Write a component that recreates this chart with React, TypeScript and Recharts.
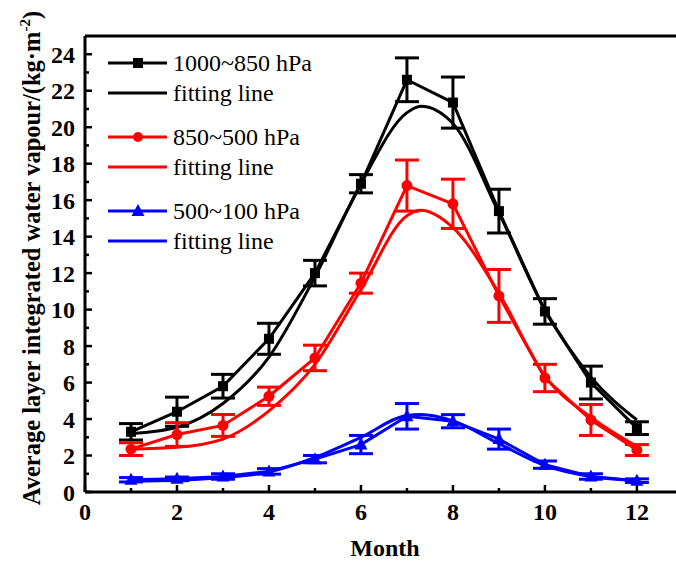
import React from 'react';
import { LineChart, Line, XAxis, YAxis, ErrorBar, ReferenceLine, Legend } from 'recharts';

const months = [1, 2, 3, 4, 5, 6, 7, 8, 9, 10, 11, 12];
const blackMean = [3.3, 4.4, 5.8, 8.4, 12.0, 16.9, 22.6, 21.35, 15.4, 9.9, 6.0, 3.5];
const blackErr = [0.45, 0.8, 0.65, 0.85, 0.7, 0.5, 1.2, 1.4, 1.2, 0.7, 0.9, 0.35];
const redMean = [2.35, 3.15, 3.65, 5.25, 7.35, 11.45, 16.8, 15.8, 10.75, 6.25, 3.95, 2.3];
const redErr = [0.35, 0.65, 0.6, 0.5, 0.7, 0.55, 1.4, 1.35, 1.45, 0.75, 0.85, 0.3];
const blueMean = [0.67, 0.72, 0.85, 1.13, 1.8, 2.6, 4.15, 3.88, 2.9, 1.5, 0.85, 0.62];
const blueErr = [0.12, 0.1, 0.15, 0.15, 0.2, 0.5, 0.7, 0.36, 0.55, 0.2, 0.15, 0.1];

const fitMonths = [1, 2, 3, 4, 5, 6, 7, 7.3, 8, 9, 10, 11, 12];
const blackFit = [3.2, 3.55, 4.85, 7.4, 11.8, 16.9, 20.8, 21.15, 20.2, 15.3, 10.0, 6.3, 3.95];
const redFit = [2.35, 2.45, 2.9, 4.45, 7.0, 11.1, 15.15, 15.45, 14.5, 10.9, 6.35, 4.1, 2.5];
const blueFit = [0.6, 0.65, 0.8, 1.1, 1.9, 3.0, 4.2, 4.25, 3.9, 2.65, 1.45, 0.85, 0.62];

const xTicks = [0, 1, 2, 3, 4, 5, 6, 7, 8, 9, 10, 11, 12];
const yTicks = [0, 1, 2, 3, 4, 5, 6, 7, 8, 9, 10, 11, 12, 13, 14, 15, 16, 17, 18, 19, 20, 21, 22, 23, 24];

const seriesLabels = ['1000~850 hPa', '850~500 hPa', '500~100 hPa'];
const fitLabel = 'fitting line';

const toRows = (xs: number[], ys: number[], es?: number[]) =>
  xs.map((m, i) => ({ m, v: ys[i], e: es ? es[i] : 0 }));

const blackData = toRows(months, blackMean, blackErr);
const redData = toRows(months, redMean, redErr);
const blueData = toRows(months, blueMean, blueErr);
const blackFitData = toRows(fitMonths, blackFit);
const redFitData = toRows(fitMonths, redFit);
const blueFitData = toRows(fitMonths, blueFit);

const SERIF = '"Liberation Serif", "Times New Roman", serif';

const SquareDot = (props: any) => {
  const { cx, cy, index } = props;
  if (cx == null || cy == null) return null;
  return <rect key={`sq-${index}`} x={cx - 5} y={cy - 5} width={10} height={10} fill="#000" />;
};
const CircleDot = (props: any) => {
  const { cx, cy, index } = props;
  if (cx == null || cy == null) return null;
  return <circle key={`ci-${index}`} cx={cx} cy={cy} r={5.5} fill="#ff0000" />;
};
const TriDot = (props: any) => {
  const { cx, cy, index } = props;
  if (cx == null || cy == null) return null;
  return (
    <polygon
      key={`tr-${index}`}
      points={`${cx},${cy - 7} ${cx - 6.5},${cy + 5} ${cx + 6.5},${cy + 5}`}
      fill="#0000ff"
    />
  );
};

const YTick = (props: any) => {
  const { x, y, payload } = props;
  const v = payload.value;
  const major = v % 2 === 0;
  return (
    <g>
      <line x1={x} x2={x + (major ? 7 : 4)} y1={y} y2={y} stroke="#000" strokeWidth={2.5} />
      {major && (
        <text
          x={x - 10}
          y={y + 8.5}
          textAnchor="end"
          fontFamily={SERIF}
          fontWeight="bold"
          fontSize={24}
          fill="#000"
        >
          {v}
        </text>
      )}
    </g>
  );
};

const XTick = (props: any) => {
  const { x, y, payload } = props;
  const v = payload.value;
  const major = v % 2 === 0;
  return (
    <g>
      <line x1={x} x2={x} y1={y} y2={y - (major ? 7 : 4)} stroke="#000" strokeWidth={2.5} />
      {major && (
        <text
          x={x}
          y={y + 28}
          textAnchor="middle"
          fontFamily={SERIF}
          fontWeight="bold"
          fontSize={24}
          fill="#000"
        >
          {v}
        </text>
      )}
    </g>
  );
};

const YLabel = () => (
  <text
    transform="translate(40, 258) rotate(-90)"
    textAnchor="middle"
    fontFamily={SERIF}
    fontWeight="bold"
    fontSize={24.5}
    fill="#000"
  >
    Average layer integrated water vapour/(kg·m
    <tspan dy={-10} fontSize={15}>-2</tspan>
    <tspan dy={10}>)</tspan>
  </text>
);

const XLabel = () => (
  <text
    x={385}
    y={556}
    textAnchor="middle"
    fontFamily={SERIF}
    fontWeight="bold"
    fontSize={24}
    fill="#000"
  >
    Month
  </text>
);

const legendItems = [
  { label: seriesLabels[0], color: '#000', marker: 'square', gap: 0 },
  { label: fitLabel, color: '#000', marker: 'none', gap: 0 },
  { label: seriesLabels[1], color: '#ff0000', marker: 'circle', gap: 14 },
  { label: fitLabel, color: '#ff0000', marker: 'none', gap: 0 },
  { label: seriesLabels[2], color: '#0000ff', marker: 'triangle', gap: 14 },
  { label: fitLabel, color: '#0000ff', marker: 'none', gap: 0 },
];

const LegendContent = () => (
  <div style={{ fontFamily: SERIF, fontSize: 24, color: '#000' }}>
    {legendItems.map((it, i) => (
      <div
        key={i}
        style={{ display: 'flex', alignItems: 'center', height: 30, marginTop: it.gap, whiteSpace: 'nowrap' }}
      >
        <svg width={60} height={30} style={{ display: 'block' }}>
          <line x1={0} x2={59} y1={15} y2={15} stroke={it.color} strokeWidth={3} />
          {it.marker === 'square' && <rect x={25} y={10} width={10} height={10} fill={it.color} />}
          {it.marker === 'circle' && <circle cx={30} cy={15} r={5} fill={it.color} />}
          {it.marker === 'triangle' && <polygon points="30,8 23.5,20 36.5,20" fill={it.color} />}
        </svg>
        <span style={{ marginLeft: 5, lineHeight: '30px' }}>{it.label}</span>
      </div>
    ))}
  </div>
);

export default function App() {
  return (
    <div style={{ position: 'absolute', left: 0, top: 0, width: 676, height: 561, background: '#fff' }}>
      <LineChart width={676} height={561} margin={{ top: 36, right: 0, bottom: 0, left: 25 }}>
        <XAxis
          type="number"
          dataKey="m"
          domain={[0, 12.85]}
          ticks={xTicks}
          interval={0}
          allowDataOverflow
          tickSize={0}
          tickMargin={0}
          tickLine={false}
          height={69}
          axisLine={{ stroke: '#000', strokeWidth: 3 }}
          tick={<XTick />}
          label={<XLabel />}
        />
        <YAxis
          type="number"
          domain={[0, 25]}
          ticks={yTicks}
          interval={0}
          allowDataOverflow
          tickSize={0}
          tickMargin={0}
          tickLine={false}
          width={60}
          axisLine={{ stroke: '#000', strokeWidth: 3 }}
          tick={<YTick />}
          label={<YLabel />}
        />
        <ReferenceLine y={25} stroke="#000" strokeWidth={3} />
        <Legend
          layout="vertical"
          align="center"
          verticalAlign="middle"
          content={<LegendContent />}
          wrapperStyle={{ position: 'absolute', left: 108, top: 48, width: 'auto', height: 'auto' }}
        />
        <Line data={blackData} dataKey="v" stroke="#000" strokeWidth={3} dot={<SquareDot />} isAnimationActive={false} legendType="none">
          <ErrorBar dataKey="e" direction="y" width={12} strokeWidth={3} stroke="#000" />
        </Line>
        <Line data={blackFitData} dataKey="v" type="monotone" stroke="#000" strokeWidth={3} dot={false} isAnimationActive={false} legendType="none" />
        <Line data={redData} dataKey="v" stroke="#ff0000" strokeWidth={3} dot={<CircleDot />} isAnimationActive={false} legendType="none">
          <ErrorBar dataKey="e" direction="y" width={12} strokeWidth={3} stroke="#ff0000" />
        </Line>
        <Line data={redFitData} dataKey="v" type="monotone" stroke="#ff0000" strokeWidth={3} dot={false} isAnimationActive={false} legendType="none" />
        <Line data={blueData} dataKey="v" stroke="#0000ff" strokeWidth={3} dot={<TriDot />} isAnimationActive={false} legendType="none">
          <ErrorBar dataKey="e" direction="y" width={12} strokeWidth={3} stroke="#0000ff" />
        </Line>
        <Line data={blueFitData} dataKey="v" type="monotone" stroke="#0000ff" strokeWidth={3} dot={false} isAnimationActive={false} legendType="none" />
      </LineChart>
    </div>
  );
}
